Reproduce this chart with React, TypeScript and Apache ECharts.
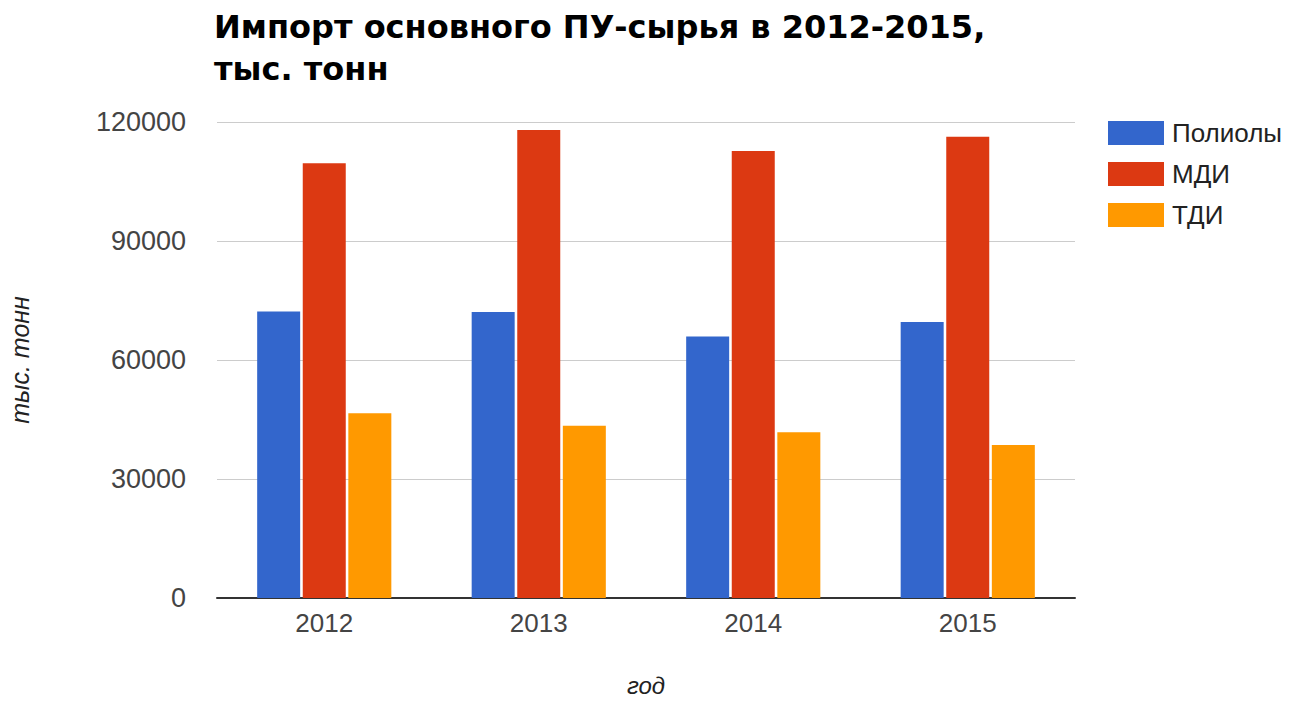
import React, { useEffect, useRef } from "react";
import * as echarts from "echarts";

const years = ["2012", "2013", "2014", "2015"];
const polyols = [72200, 72100, 65900, 69600];
const mdi = [109600, 118000, 112700, 116300];
const tdi = [46600, 43400, 41800, 38600];
const seriesNames = ["Полиолы", "МДИ", "ТДИ"];
const colors = ["#3366cc", "#dc3912", "#ff9900"];

export default function App() {
  const ref = useRef<HTMLDivElement>(null);
  useEffect(() => {
    const chart = echarts.init(ref.current!, null, { renderer: "svg" });
    const font = "'Liberation Sans', Arial, sans-serif";
    chart.setOption({
      animation: false,
      backgroundColor: "#ffffff",
      textStyle: { fontFamily: font },
      title: {
        text: "Импорт основного ПУ-сырья в 2012-2015,\nтыс. тонн",
        left: 209,
        top: 1,
        textStyle: {
          fontFamily: "'DejaVu Sans', sans-serif",
          fontWeight: "bold",
          fontSize: 32,
          lineHeight: 42,
          color: "#000",
        },
      },
      legend: {
        orient: "vertical",
        left: 1103,
        top: 115,
        itemWidth: 56,
        itemHeight: 24,
        itemGap: 15,
        icon: "rect",
        textStyle: { fontFamily: font, fontSize: 26, color: "#222", padding: [0, 0, 0, 3] },
        data: seriesNames,
      },
      grid: { left: 217, width: 858, top: 122, height: 476, containLabel: false, outerBoundsMode: "none" },
      xAxis: {
        type: "category",
        data: years,
        name: "год",
        nameLocation: "middle",
        nameGap: 75,
        nameTextStyle: { fontFamily: font, fontSize: 24, fontStyle: "italic", color: "#222" },
        axisLine: { lineStyle: { color: "#333", width: 2 } },
        axisTick: { show: false },
        axisLabel: { fontFamily: font, fontSize: 26, color: "#444", margin: 12 },
      },
      yAxis: {
        type: "value",
        min: 0,
        max: 120000,
        interval: 30000,
        name: "тыс. тонн",
        nameLocation: "middle",
        nameGap: 185,
        nameTextStyle: { fontFamily: font, fontSize: 25, fontStyle: "italic", color: "#222" },
        axisLine: { show: false },
        axisTick: { show: false },
        splitLine: { lineStyle: { color: "#cccccc", width: 1 } },
        axisLabel: {
          fontFamily: font,
          fontSize: 27,
          color: "#444",
          margin: 31,
          formatter: (v: number) => String(v),
        },
      },
      series: [
        { name: seriesNames[0], type: "bar", data: polyols, itemStyle: { color: colors[0] }, barWidth: 43, barGap: "6%" },
        { name: seriesNames[1], type: "bar", data: mdi, itemStyle: { color: colors[1] }, barWidth: 43, barGap: "6%" },
        { name: seriesNames[2], type: "bar", data: tdi, itemStyle: { color: colors[2] }, barWidth: 43, barGap: "6%" },
      ],
    });
    return () => chart.dispose();
  }, []);
  return (
    <div
      ref={ref}
      style={{ position: "fixed", left: 0, top: 0, width: 1297, height: 701 }}
    />
  );
}
